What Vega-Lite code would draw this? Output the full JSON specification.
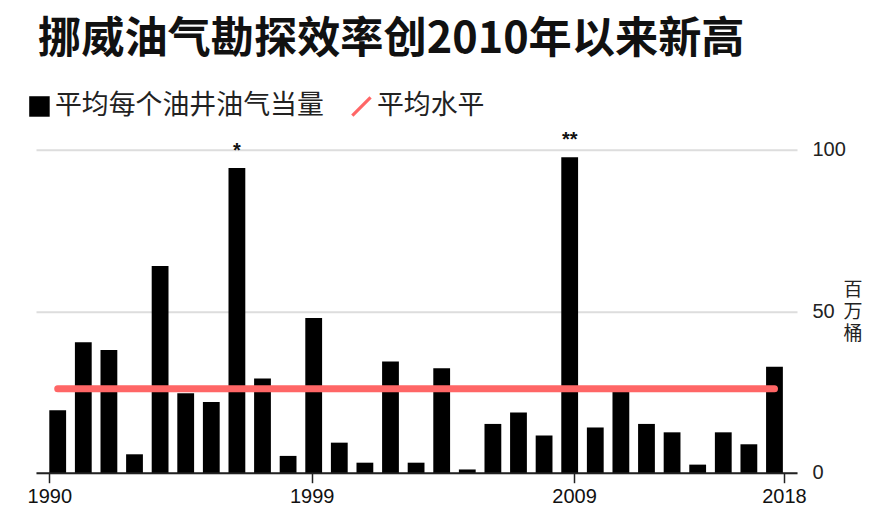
{"$schema":"https://vega.github.io/schema/vega-lite/v6.json","width":761,"height":323,"autosize":{"type":"none"},"padding":{"left":36,"top":149.7,"right":76,"bottom":37.3},"background":"white","title":{"text":"挪威油气勘探效率创2010年以来新高","anchor":"start","frame":"group","font":"Noto Sans CJK SC","fontSize":43.2,"fontWeight":"bold","color":"#111111","dx":2,"offset":31},"config":{"view":{"stroke":null},"font":"Liberation Sans"},"datasets":{"bars":[{"year":1990,"value":19.3,"series":"平均每个油井油气当量"},{"year":1991,"value":40.4,"series":"平均每个油井油气当量"},{"year":1992,"value":38,"series":"平均每个油井油气当量"},{"year":1993,"value":5.7,"series":"平均每个油井油气当量"},{"year":1994,"value":64,"series":"平均每个油井油气当量"},{"year":1995,"value":24.6,"series":"平均每个油井油气当量"},{"year":1996,"value":21.9,"series":"平均每个油井油气当量"},{"year":1997,"value":94.3,"series":"平均每个油井油气当量","note":"*"},{"year":1998,"value":29.2,"series":"平均每个油井油气当量"},{"year":1999,"value":5.2,"series":"平均每个油井油气当量"},{"year":2000,"value":47.9,"series":"平均每个油井油气当量"},{"year":2001,"value":9.3,"series":"平均每个油井油气当量"},{"year":2002,"value":3.1,"series":"平均每个油井油气当量"},{"year":2003,"value":34.4,"series":"平均每个油井油气当量"},{"year":2004,"value":3.1,"series":"平均每个油井油气当量"},{"year":2005,"value":32.3,"series":"平均每个油井油气当量"},{"year":2006,"value":1,"series":"平均每个油井油气当量"},{"year":2007,"value":15.1,"series":"平均每个油井油气当量"},{"year":2008,"value":18.6,"series":"平均每个油井油气当量"},{"year":2009,"value":11.5,"series":"平均每个油井油气当量"},{"year":2010,"value":97.7,"series":"平均每个油井油气当量","note":"**"},{"year":2011,"value":14,"series":"平均每个油井油气当量"},{"year":2012,"value":26,"series":"平均每个油井油气当量"},{"year":2013,"value":15.1,"series":"平均每个油井油气当量"},{"year":2014,"value":12.5,"series":"平均每个油井油气当量"},{"year":2015,"value":2.5,"series":"平均每个油井油气当量"},{"year":2016,"value":12.5,"series":"平均每个油井油气当量"},{"year":2017,"value":8.8,"series":"平均每个油井油气当量"},{"year":2018,"value":32.8,"series":"平均每个油井油气当量"}],"avg":[{"year":1990,"value":26,"series":"平均水平"},{"year":2018,"value":26,"series":"平均水平"}]},"layer":[{"data":{"name":"bars"},"mark":{"type":"bar","size":16.8},"encoding":{"x":{"field":"year","type":"quantitative","scale":{"domain":[1989.152,2018.88],"nice":false,"zero":false,"padding":0},"axis":{"title":null,"grid":false,"values":[1989.67,1999.92,2010.17,2018.37],"labelExpr":"datum.value<1995?'1990':datum.value<2005?'1999':datum.value<2015?'2009':'2018'","labelFont":"Liberation Sans","labelFontSize":20,"labelColor":"#111111","labelPadding":4,"labelFlush":false,"labelOverlap":false,"domainColor":"#222222","domainWidth":2,"tickColor":"#222222","tickSize":10,"tickWidth":1.5}},"y":{"field":"value","type":"quantitative","scale":{"domain":[0,100],"nice":false},"axis":{"orient":"right","title":["百","万","桶"],"titleFont":"Noto Sans CJK SC","titleFontWeight":"normal","titleFontSize":19,"titleLineHeight":22,"titleAngle":0,"titleColor":"#222222","titleX":46,"titleY":150,"titleAlign":"left","values":[0,50,100],"grid":true,"gridColor":"#dddddd","gridWidth":2,"domain":false,"ticks":false,"labelPadding":15,"labelAlign":"left","labelFont":"Liberation Sans","labelFontSize":20,"labelColor":"#222222"}},"color":{"field":"series","type":"nominal","scale":{"domain":["平均每个油井油气当量","平均水平"],"range":["#000000","#ff6666"]},"legend":{"title":null,"orient":"none","legendX":-10,"legendY":-57,"direction":"horizontal","columns":2,"labelFont":"Noto Sans CJK SC","labelFontSize":26.9,"labelColor":"#222222","labelLimit":400,"symbolSize":420,"symbolOpacity":1,"columnPadding":24,"labelOffset":2}}}},{"data":{"name":"avg"},"mark":{"type":"line","strokeWidth":7,"strokeCap":"round","color":"#ff6666"},"encoding":{"x":{"field":"year","type":"quantitative"},"y":{"field":"value","type":"quantitative"}}},{"data":{"name":"avg"},"transform":[{"filter":"false"}],"mark":{"type":"point","filled":true,"opacity":1},"encoding":{"x":{"field":"year","type":"quantitative"},"y":{"field":"value","type":"quantitative"},"color":{"field":"series","type":"nominal"},"shape":{"field":"series","type":"nominal","scale":{"domain":["平均每个油井油气当量","平均水平"],"range":["square","M-1,0.78L0.78,-1L1,-0.78L-0.78,1Z"]},"legend":{"title":null}}}},{"data":{"name":"bars"},"transform":[{"filter":"isValid(datum.note)"}],"mark":{"type":"text","dy":-17,"fontSize":20,"font":"Liberation Sans","fontWeight":"bold","color":"#111111"},"encoding":{"x":{"field":"year","type":"quantitative"},"y":{"field":"value","type":"quantitative"},"text":{"field":"note"}}}]}
